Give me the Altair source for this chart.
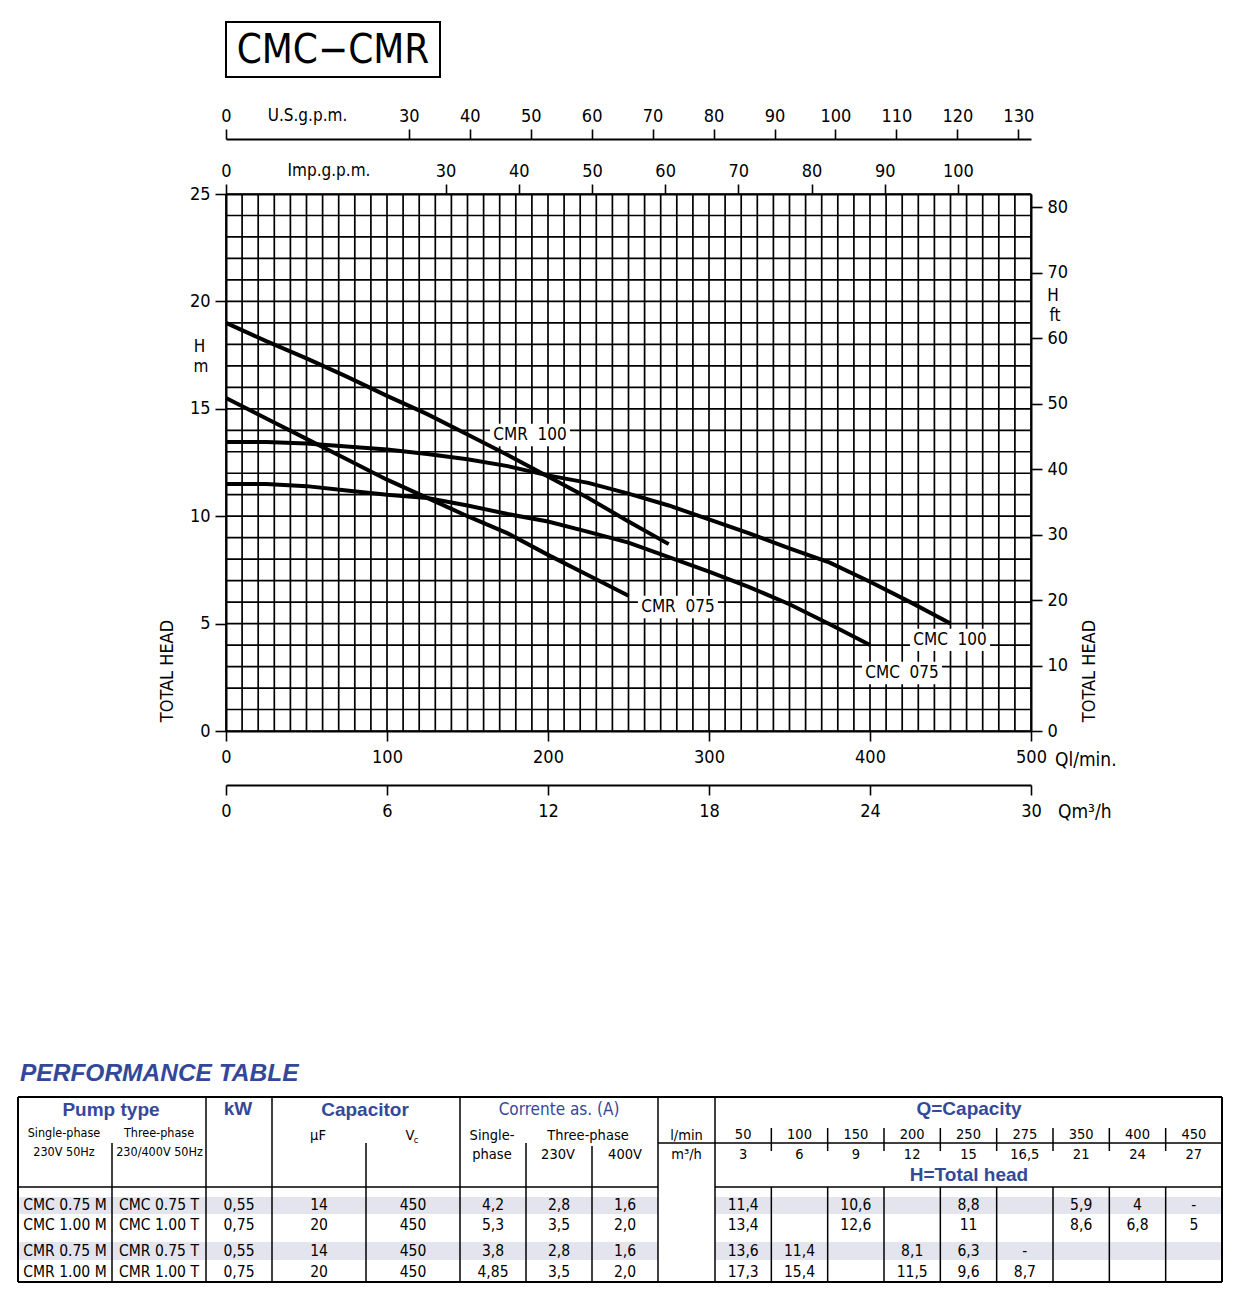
import altair as alt
import pandas as pd

COND = "DejaVu Sans Condensed, Liberation Sans Narrow, sans-serif"
SANS = "Liberation Sans, Arial, sans-serif"
BLUE = "#34489a"
SHADE = "#e4e4ee"

W, H = 805, 537
OX, OY = 226, 194  # page position of plot origin

# ---------------- curve data (Q in l/min, H in m) ----------------
cmr100_q = [0, 25, 50, 75, 100, 125, 150, 175, 200, 225, 250, 275]
cmr100_h = [19.0, 18.15, 17.35, 16.5, 15.6, 14.75, 13.8, 12.85, 11.85, 10.85, 9.75, 8.7]
cmr075_q = [0, 25, 50, 75, 100, 125, 150, 175, 200, 225, 250]
cmr075_h = [15.5, 14.55, 13.6, 12.65, 11.7, 10.85, 10.0, 9.2, 8.2, 7.25, 6.3]
cmc100_q = [0, 25, 50, 75, 100, 125, 150, 175, 200, 225, 250, 275, 300, 325, 350, 375, 400, 425, 450]
cmc100_h = [13.45, 13.45, 13.38, 13.25, 13.1, 12.9, 12.65, 12.33, 11.9, 11.55, 11.05, 10.5, 9.85, 9.2, 8.5, 7.84, 6.95, 6.0, 5.0]
cmc075_q = [0, 25, 50, 75, 100, 125, 150, 175, 200, 225, 250, 275, 300, 325, 350, 375, 400]
cmc075_h = [11.5, 11.5, 11.4, 11.2, 11.0, 10.85, 10.5, 10.1, 9.75, 9.27, 8.77, 8.1, 7.42, 6.7, 5.9, 4.97, 4.0]

curve_names = ["CMR 100", "CMR 075", "CMC 100", "CMC 075"]
curve_label_q = [188.8, 280.7, 449.7, 419.9]
curve_label_h = [13.78, 5.77, 4.24, 2.70]

# axis tick values
ql_ticks = [0, 100, 200, 300, 400, 500]
m3h_ticks = [0, 6, 12, 18, 24, 30]
usgpm_ticks = [0, 30, 40, 50, 60, 70, 80, 90, 100, 110, 120, 130]
impgpm_ticks = [0, 30, 40, 50, 60, 70, 80, 90, 100]
head_m_ticks = [0, 5, 10, 15, 20, 25]
head_ft_ticks = [0, 10, 20, 30, 40, 50, 60, 70, 80]

# ---------------- table data ----------------
single_phase = ["CMC 0.75 M", "CMC 1.00 M", "CMR 0.75 M", "CMR 1.00 M"]
three_phase = ["CMC 0.75 T", "CMC 1.00 T", "CMR 0.75 T", "CMR 1.00 T"]
kw = ["0,55", "0,75", "0,55", "0,75"]
cap_uf = ["14", "20", "14", "20"]
cap_vc = ["450", "450", "450", "450"]
amp_single = ["4,2", "5,3", "3,8", "4,85"]
amp_230 = ["2,8", "3,5", "2,8", "3,5"]
amp_400 = ["1,6", "2,0", "1,6", "2,0"]
cap_lmin = ["50", "100", "150", "200", "250", "275", "350", "400", "450"]
cap_m3h = ["3", "6", "9", "12", "15", "16,5", "21", "24", "27"]
head_rows = [
    ["11,4", "", "10,6", "", "8,8", "", "5,9", "4", "-"],
    ["13,4", "", "12,6", "", "11", "", "8,6", "6,8", "5"],
    ["13,6", "11,4", "", "8,1", "6,3", "-", "", "", ""],
    ["17,3", "15,4", "", "11,5", "9,6", "8,7", "", "", ""],
]

# ---------------- scales ----------------
xs = alt.Scale(domain=[0, 500], nice=False, zero=False)
ys = alt.Scale(domain=[0, 25], nice=False, zero=False)
TX = alt.Scale(domain=[0, 1243], range=[-OX, 1243 - OX], nice=False, zero=False)
TY = alt.Scale(domain=[0, 1293], range=[-OY, 1293 - OY], nice=False, zero=False)

ax_common = dict(title=None, labelFont=COND, labelFontSize=18, labelColor="black",
                 tickColor="black", tickWidth=1.6, domainColor="black", domainWidth=2,
                 grid=False, labelFlush=False, labelOverlap=False)

one = pd.DataFrame({"a": [0]})


def note(text, x, y, size=18, angle=0, align="center", baseline="middle", font=COND, **kw):
    return alt.Chart(one).mark_text(text=text, font=font, fontSize=size, angle=angle, align=align,
                                     baseline=baseline, color="black", **kw).encode(
        x=alt.value(x), y=alt.value(y))


# ---------------- main plot ----------------
vgrid = alt.Chart(pd.DataFrame({"q": list(range(0, 501, 10))})).mark_rule(
    color="black", strokeWidth=1.7).encode(x=alt.X("q:Q", scale=xs, axis=None))
hgrid = alt.Chart(pd.DataFrame({"h": list(range(0, 26, 1))})).mark_rule(
    color="black", strokeWidth=1.7).encode(y=alt.Y("h:Q", scale=ys, axis=None))

rows = []
for name, qs, hs in [("CMR 100", cmr100_q, cmr100_h), ("CMR 075", cmr075_q, cmr075_h),
                     ("CMC 100", cmc100_q, cmc100_h), ("CMC 075", cmc075_q, cmc075_h)]:
    for i, (qq, hh) in enumerate(zip(qs, hs)):
        rows.append({"series": name, "q": qq, "h": hh, "o": i})
curves_df = pd.DataFrame(rows)
curves = alt.Chart(curves_df).mark_line(color="black", strokeWidth=4).encode(
    x=alt.X("q:Q", scale=xs, axis=None), y=alt.Y("h:Q", scale=ys, axis=None),
    detail="series:N", order="o:Q")

lab_df = pd.DataFrame({"name": [n.replace(" ", "\u00a0\u00a0") for n in curve_names],
                       "q": curve_label_q, "h": curve_label_h})
lab_box = alt.Chart(lab_df).mark_point(
    shape="M-1,-0.28L1,-0.28L1,0.28L-1,0.28Z", size=6400, filled=True, fill="white",
    opacity=1, strokeWidth=0).encode(
    x=alt.X("q:Q", scale=xs, axis=None), y=alt.Y("h:Q", scale=ys, axis=None))
lab_txt = alt.Chart(lab_df).mark_text(font=COND, fontSize=17, color="black").encode(
    x=alt.X("q:Q", scale=xs, axis=None), y=alt.Y("h:Q", scale=ys, axis=None), text="name:N")

title_box = alt.Chart(one).mark_rect(filled=False, stroke="black", strokeWidth=2).encode(
    x=alt.value(0), x2=alt.value(214), y=alt.value(-172), y2=alt.value(-117))

main = alt.layer(
    vgrid, hgrid, lab_box, curves, lab_txt, title_box,
    note("CMC\u2212CMR", 107, -143, size=40),
    note("U.S.g.p.m.", 81.5, -73.5, size=17, baseline="alphabetic"),
    note("Imp.g.p.m.", 103, -18, size=17, baseline="alphabetic"),
    note("H", -26.5, 158, size=17, baseline="alphabetic"),
    note("m", -25, 178, size=17, baseline="alphabetic"),
    note("H", 827, 107, size=17, baseline="alphabetic"),
    note("ft", 829, 127, size=17, baseline="alphabetic"),
    note("TOTAL HEAD", -58.5, 477, angle=270),
    note("TOTAL HEAD", 864, 477, angle=270),
    note("Ql/min.", 829, 566, size=19, align="left"),
    note("Qm\u00b3/h", 832, 618, size=19, align="left"),
)


# ---------------- axes ----------------
def x_axis_layer(domain, values, orient, offset, pad, tick=10):
    return alt.Chart(one).mark_point(opacity=0).encode(
        x=alt.X("a:Q", scale=alt.Scale(domain=domain, nice=False, zero=False),
                axis=alt.Axis(orient=orient, offset=offset, values=values, tickSize=tick,
                              labelPadding=pad, **ax_common)))


def y_axis_layer(domain, values, orient, pad, tick=11):
    return alt.Chart(one).mark_point(opacity=0).encode(
        y=alt.Y("a:Q", scale=alt.Scale(domain=domain, nice=False, zero=False),
                axis=alt.Axis(orient=orient, values=values, tickSize=tick, labelPadding=pad,
                              **ax_common)))


ql_axis = x_axis_layer([0, 500], ql_ticks, "bottom", 0, 7)
m3h_axis = x_axis_layer([0, 30], m3h_ticks, "bottom", 54, 7)
imp_axis = x_axis_layer([0, 500 / 4.54609], impgpm_ticks, "top", 0, 4)
us_axis = x_axis_layer([0, 500 / 3.78541], usgpm_ticks, "top", 55, 4)
hm_axis = y_axis_layer([0, 25], head_m_ticks, "left", 5)
ft_axis = y_axis_layer([0, 25 / 0.3048], head_ft_ticks, "right", 5)

# ---------------- performance table ----------------
L, R, T, B = 18, 1222, 1097, 1282
col_c = {"single": 65, "three": 159, "kw": 239, "uf": 319, "vc": 413,
         "a1": 493, "a230": 559, "a400": 625, "lmin": 686.5}
Q0, QW = 715, (1222 - 715) / 9
q_c = [Q0 + QW * (i + 0.5) for i in range(9)]
q_sep = [Q0 + QW * i for i in range(1, 9)]
row_y = [1205, 1225, 1251, 1272]


def t_text(items, **mk):
    df = pd.DataFrame(items, columns=["tx", "ty", "t"])
    return alt.Chart(df).mark_text(**mk).encode(
        x=alt.X("tx:Q", scale=TX, axis=None), y=alt.Y("ty:Q", scale=TY, axis=None), text="t:N")


def t_rules(segs, width=1.6):
    df = pd.DataFrame(segs, columns=["tx", "ty", "tx2", "ty2"])
    return alt.Chart(df).mark_rule(color="black", strokeWidth=width).encode(
        x=alt.X("tx:Q", scale=TX, axis=None), x2="tx2:Q",
        y=alt.Y("ty:Q", scale=TY, axis=None), y2="ty2:Q")


shade_df = pd.DataFrame([[L, 1197, 658, 1214], [715, 1197, R, 1214],
                         [L, 1242, 658, 1260], [715, 1242, R, 1260]],
                        columns=["tx", "ty", "tx2", "ty2"])
shade = alt.Chart(shade_df).mark_rect(color=SHADE).encode(
    x=alt.X("tx:Q", scale=TX, axis=None), x2="tx2:Q",
    y=alt.Y("ty:Q", scale=TY, axis=None), y2="ty2:Q")

border = t_rules([[L, T, R, T], [L, B, R, B], [L, T, L, B], [R, T, R, B]], width=2)
lines = t_rules(
    [[x, T, x, B] for x in [206, 272, 460, 658, 715]]
    + [[x, 1143, x, B] for x in [112, 366, 526]]
    + [[592, 1146, 592, B]]
    + [[x, 1128, x, 1151] for x in q_sep]
    + [[x, 1187, x, B] for x in q_sep]
    + [[L, 1187, 658, 1187], [715, 1187, R, 1187], [658, 1143, R, 1143]],
    width=1.5)

heads_bold = t_text([[111, 1110, "Pump type"], [238, 1109, "kW"], [365, 1110, "Capacitor"],
                     [969, 1109, "Q=Capacity"], [969, 1175, "H=Total head"]],
                    font=SANS, fontSize=19, fontWeight="bold", color=BLUE, baseline="middle")
heads_reg = t_text([[559, 1110, "Corrente as. (A)"]], font=COND, fontSize=17, color=BLUE,
                   baseline="middle")
perf_title = t_text([[20, 1074, "PERFORMANCE TABLE"]], font=SANS, fontSize=24.5, fontWeight="bold",
                    fontStyle="italic", color=BLUE, align="left", baseline="middle")

pump_sub = [[64, 1133, "Single-phase"], [64, 1152, "230V 50Hz"],
            [159, 1133, "Three-phase"], [159.5, 1152, "230/400V 50Hz"]]
pump_sub_txt = t_text(pump_sub, font=COND, fontSize=12.5, color="black", baseline="middle")

sub = [[318, 1136, "\u03bcF"], [410, 1136, "V"],
       [492, 1136, "Single-"], [492, 1155, "phase"],
       [588, 1136, "Three-phase"], [558, 1155, "230V"], [625, 1155, "400V"],
       [686.5, 1136, "l/min"], [686.5, 1155, "m\u00b3/h"]]
sub += [[q_c[i], 1135, v] for i, v in enumerate(cap_lmin)]
sub += [[q_c[i], 1155, v] for i, v in enumerate(cap_m3h)]
sub_txt = t_text(sub, font=COND, fontSize=14.5, color="black", baseline="middle")
vc_sub = t_text([[416, 1140, "c"]], font=COND, fontSize=9, color="black", baseline="middle")

cells = []
for r in range(4):
    y = row_y[r]
    for key, arr in [("single", single_phase), ("three", three_phase), ("kw", kw), ("uf", cap_uf),
                     ("vc", cap_vc), ("a1", amp_single), ("a230", amp_230), ("a400", amp_400)]:
        cells.append([col_c[key], y, arr[r]])
    for i, v in enumerate(head_rows[r]):
        if v:
            cells.append([q_c[i], y, v])
cell_txt = t_text(cells, font=COND, fontSize=15.5, color="black", baseline="middle")

table = alt.layer(shade, border, lines, perf_title, heads_bold, heads_reg, pump_sub_txt, sub_txt,
                  vc_sub, cell_txt)

chart = alt.layer(main, ql_axis, m3h_axis, imp_axis, us_axis, hm_axis, ft_axis, table).resolve_scale(
    x="independent", y="independent"
).properties(
    width=W, height=H,
    autosize=alt.AutoSizeParams(type="none"),
    padding={"left": OX - 8, "top": OY - 8, "right": 192, "bottom": 553},
).configure_view(stroke=None).configure(background="white")

chart.save("out.html", embed_options={"renderer": "svg", "actions": False})
